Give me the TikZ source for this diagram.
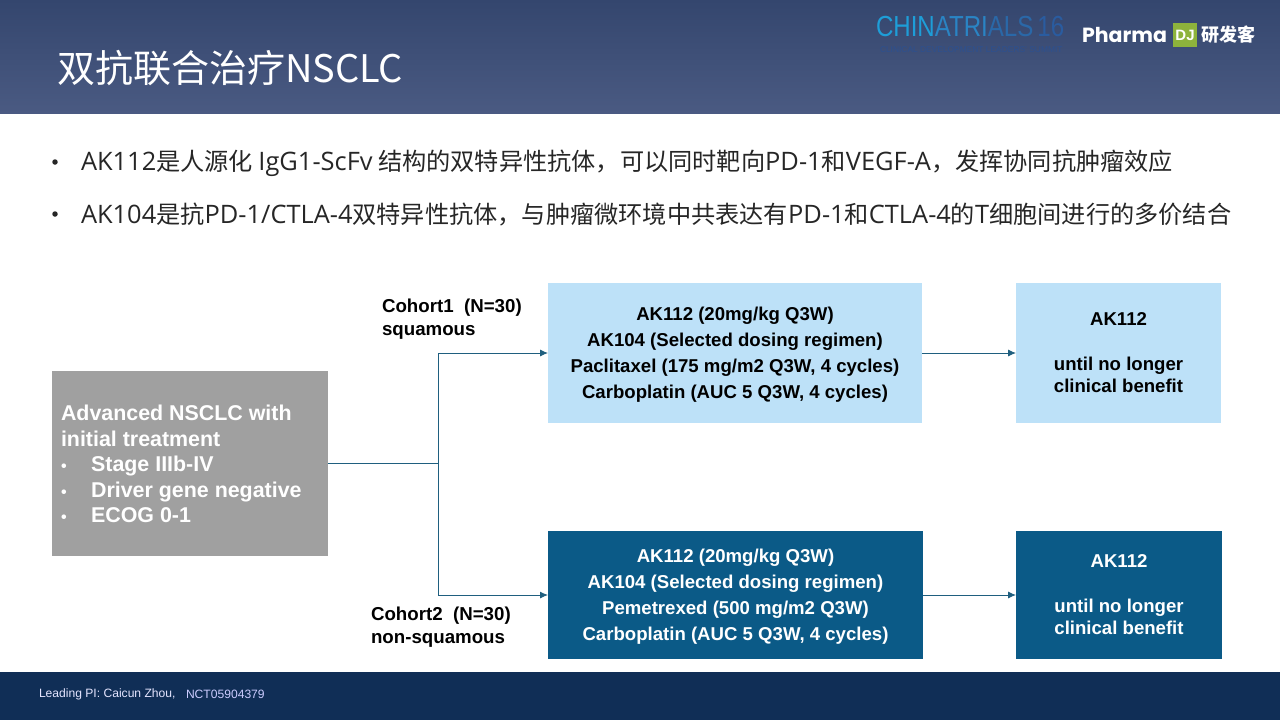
\documentclass[tikz,border=0pt]{standalone}
\usepackage{fontspec}
\setmainfont{Liberation Sans}
\newfontfamily\cjk{Noto Sans CJK SC}
\newfontfamily\logofont{Poppins}
\newfontfamily\latfont{Open Sans}[Scale=1.05]
\usetikzlibrary{positioning,arrows.meta}
\definecolor{headtop}{HTML}{34466E}
\definecolor{headbot}{HTML}{4A5A82}
\definecolor{footbar}{HTML}{102E56}
\definecolor{lightbox}{HTML}{BDE1F8}
\definecolor{darkbox}{HTML}{0B5A87}
\definecolor{greybox}{HTML}{A0A0A0}
\definecolor{linkcol}{HTML}{1F5F7F}
\definecolor{logoone}{HTML}{1E9ED8}
\definecolor{logotwo}{HTML}{2A84C4}
\definecolor{logothree}{HTML}{2A68A8}
\definecolor{logofour}{HTML}{2A5CA0}
\definecolor{logosub}{HTML}{2C5090}
\definecolor{logogreen}{HTML}{8DB33C}
\newcommand{\armtop}{\rule{0pt}{17pt}}
\newcommand{\lat}[1]{{\latfont #1}}
\tikzset{
  x=1pt, y=-1pt,
  every node/.style={inner sep=0pt, outer sep=0pt},
  armbox/.style={minimum height=140pt, align=center, font=\fontsize{18.6}{26}\selectfont\bfseries},
  lightarm/.style={armbox, fill=lightbox, text=black},
  darkarm/.style={armbox, fill=darkbox, text=white},
  cohort/.style={align=left, anchor=north west, font=\fontsize{18.7}{23}\selectfont\bfseries, text=black},
  bullet/.style={anchor=west, font=\cjk\fontsize{24.2}{28}\selectfont, text=black!85},
  bulletdot/.style={anchor=center, circle, fill=black!85, minimum size=5.5pt},
  link/.style={draw=linkcol, line width=0.9pt},
  linkarrow/.style={link, -{Latex[length=8pt,width=7pt]}},
}
\begin{document}
\begin{tikzpicture}
\useasboundingbox (0,0) rectangle (1280,720);
% bands
\shade[top color=headtop, bottom color=headbot] (0,0) rectangle (1280,113);
\fill[footbar] (0,672) rectangle (1280,720);
\node[anchor=west, text=white, font=\cjk\fontsize{38}{44}\selectfont] (title) at (57,68) {双抗联合治疗NSCLC};
% logos
\node[anchor=west, font=\fontsize{29}{30}\selectfont] (logoa) at (876,27) {\scalebox{0.83}[1]{\textcolor{logoone}{CHIN}\textcolor{logotwo}{ATRI}\textcolor{logothree}{ALS}\,\textcolor{logofour}{16}}};
\node[anchor=west, text=logosub, font=\fontsize{8.4}{9}\selectfont] (logob) at (880,50) {CLINICAL DEVELOPMENT LEADERS' SUMMIT};
\node[anchor=west, text=white, font=\logofont\fontsize{20.5}{24}\selectfont\bfseries] (logoc) at (1082,35) {Pharma};
\node[anchor=west, fill=logogreen, text=white, minimum width=24pt, minimum height=24pt, font=\fontsize{15}{16}\selectfont\bfseries] (logod) at (1173,35) {DJ};
\node[anchor=west, text=white, font=\cjk\fontsize{18}{20}\selectfont\bfseries] (logoe) at (1201,35) {研发客};
% bullets
\node[bulletdot] (dota) at (55,162) {};
\node[bullet] (bula) at (81,163) {\lat{AK112}是人源化 \lat{IgG1-ScFv} 结构的双特异性抗体，可以同时靶向\lat{PD-1}和\lat{VEGF-A}，发挥协同抗肿瘤效应};
\node[bulletdot] (dotb) at (55,214) {};
\node[bullet] (bulb) at (81,215) {\lat{AK104}是抗\lat{PD-1/CTLA-4}双特异性抗体，与肿瘤微环境中共表达有\lat{PD-1}和\lat{CTLA-4}的\lat{T}细胞间进行的多价结合};
% boxes
\node[fill=greybox, text=white, minimum width=276pt, minimum height=185pt, anchor=north west] (patient) at (52,371) {};
\node[anchor=west, align=left, text=white, font=\fontsize{21.4}{25.5}\selectfont\bfseries] (ptext) at (61,464) {Advanced NSCLC with\\initial treatment\\{\fontsize{16}{16}\selectfont•}\hspace{24.5pt}Stage IIIb-IV\\{\fontsize{16}{16}\selectfont•}\hspace{24.5pt}Driver gene negative\\{\fontsize{16}{16}\selectfont•}\hspace{24.5pt}ECOG 0-1};
\node[lightarm, minimum width=374pt, anchor=north west] (armone) at (548,283) {\armtop AK112 (20mg/kg Q3W)\\AK104 (Selected dosing regimen)\\Paclitaxel (175 mg/m2 Q3W, 4 cycles)\\Carboplatin (AUC 5 Q3W, 4 cycles)};
\node[lightarm, minimum width=205pt, anchor=north west, font=\fontsize{18.6}{22}\selectfont\bfseries] (mainone) at (1016,283) {AK112\\[23pt]until no longer\\clinical benefit};
\node[darkarm, minimum width=375pt, minimum height=128pt, anchor=north west] (armtwo) at (548,531) {\armtop AK112 (20mg/kg Q3W)\\AK104 (Selected dosing regimen)\\Pemetrexed (500 mg/m2 Q3W)\\Carboplatin (AUC 5 Q3W, 4 cycles)};
\node[darkarm, minimum width=206pt, minimum height=128pt, anchor=north west, font=\fontsize{18.6}{22}\selectfont\bfseries] (maintwo) at (1016,531) {AK112\\[23pt]until no longer\\clinical benefit};
% labels
\node[cohort] (cohortone) at (382,299) {Cohort1\ \ (N=30)\\squamous};
\node[cohort] (cohorttwo) at (371,607) {Cohort2\ \ (N=30)\\non-squamous};
% connectors
\coordinate (fork) at (438.5,463.5);
\draw[link] (patient.east |- fork) -- (fork);
\draw[linkarrow] (fork) |- (armone.west);
\draw[linkarrow] (fork) |- (armtwo.west);
\draw[linkarrow] (armone) -- (mainone);
\draw[linkarrow] (armtwo) -- (maintwo);
% footer
\node[anchor=west, text=white!90!blue, font=\fontsize{12.1}{14}\selectfont] (pi) at (39,694) {Leading PI: Caicun Zhou,};
\node[anchor=west, text=white!80!blue, font=\fontsize{12.1}{14}\selectfont] (nct) at (186,694) {NCT05904379};
\end{tikzpicture}
\end{document}
